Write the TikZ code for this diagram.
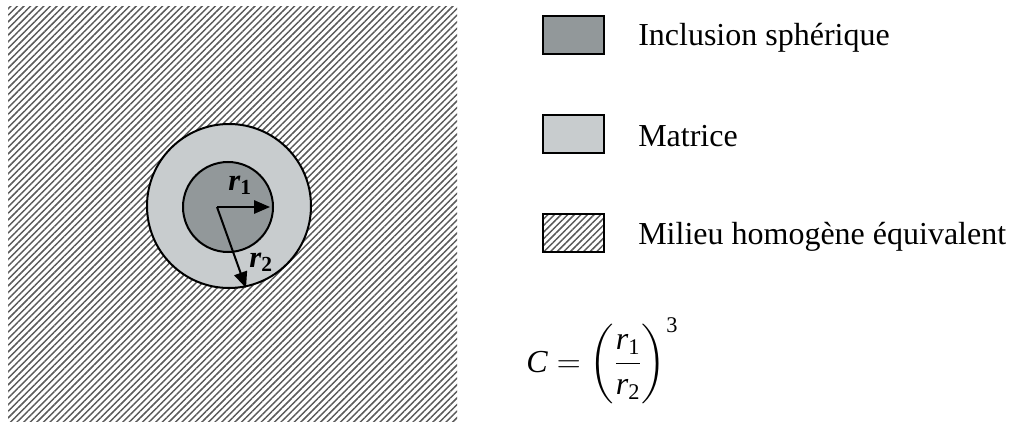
\documentclass[tikz,border=0pt]{standalone}
\usepackage{amsmath}
\usepackage{fontspec}
\setmainfont{Liberation Serif}
\usetikzlibrary{arrows.meta,patterns.meta}
\definecolor{inclgray}{HTML}{92989A}
\definecolor{matgray}{HTML}{C8CCCE}
\tikzset{
  hatchfill/.style={pattern={Lines[angle=45,distance=3.5pt,line width=1.1pt]},
    pattern color=black!65},
  legendbox/.style={draw=black, line width=1.5pt},
  legendtext/.style={anchor=base west, inner sep=0pt,
    font=\fontsize{24}{28}\selectfont},
  radiusarrow/.style={line width=1.5pt, -{Triangle[length=12pt,width=10pt]}}
}

\begin{document}
\begin{tikzpicture}[x=0.75pt, y=0.75pt]
  \useasboundingbox (0,0) rectangle (1015,426);
  % homogeneous medium
  \fill[hatchfill] (8,5) rectangle (457,419);
  % matrix and inclusion
  \draw[line width=1.5pt, fill=matgray] (229,220) circle[radius=82];
  \draw[line width=1.5pt, fill=inclgray] (228,219) circle[radius=45];
  \coordinate (ctr) at (217,219);
  \coordinate (tipone) at (270,219);
  \coordinate (tiptwo) at (246,138);
  \draw[radiusarrow] (ctr) -- (tipone);
  \draw[radiusarrow] (ctr) -- (tiptwo);
  \node[legendtext, font=\fontsize{23}{27}\selectfont] (rone) at (228,236)
    {\textbf{\textit{r}}\textsubscript{\textbf{1}}};
  \node[legendtext, font=\fontsize{23}{27}\selectfont] (rtwo) at (249,159)
    {\textbf{\textit{r}}\textsubscript{\textbf{2}}};
  % legend
  \draw[legendbox, fill=inclgray] (543,372) rectangle (604,410);
  \draw[legendbox, fill=matgray] (543,273) rectangle (604,311);
  \draw[legendbox, hatchfill] (543,174) rectangle (604,212);
  \node[legendtext] (incl) at (638,380) {Inclusion sphérique};
  \node[legendtext] (matr) at (638,280) {Matrice};
  \node[legendtext] (milieu) at (638,182) {Milieu homogène équivalent};
  % concentration
  \node[legendtext] (conc) at (526,54)
    {$\textit{C} = \left(\dfrac{\textit{r}_{\text{1}}}{\textit{r}_{\text{2}}}\right)^{\text{3}}$};
\end{tikzpicture}
\end{document}
